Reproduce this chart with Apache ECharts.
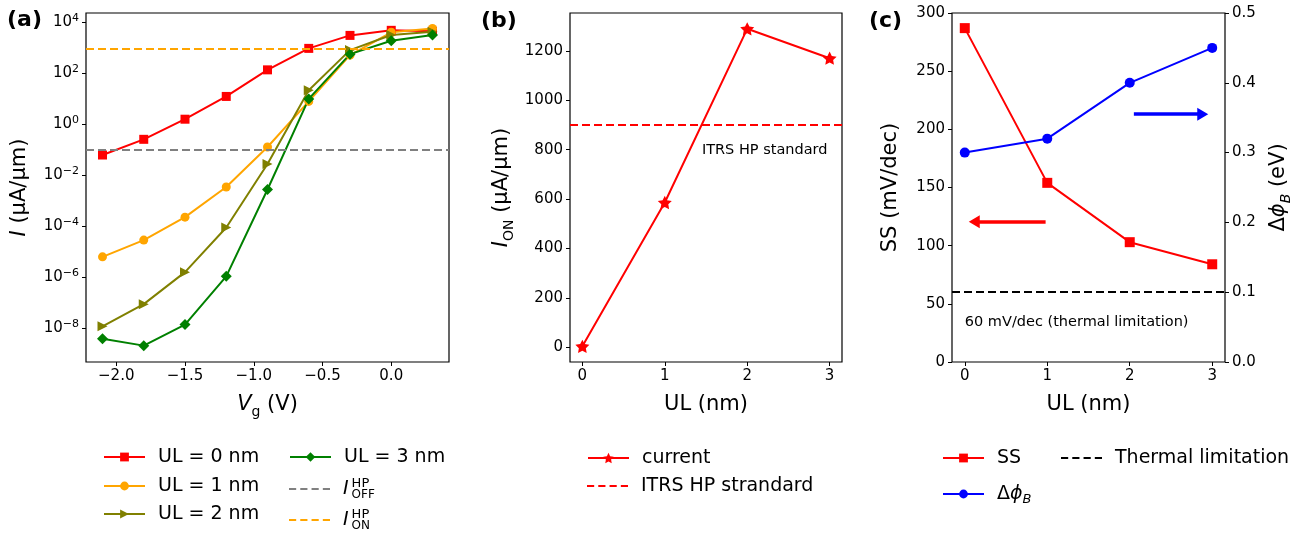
<!DOCTYPE html>
<html><head><meta charset="utf-8">
<script src="https://cdn.jsdelivr.net/npm/echarts@6/dist/echarts.min.js"></script>
<style>html,body{margin:0;padding:0;background:#fff}#c{width:1305px;height:537px}</style>
</head><body><div id="c"></div>
<script>
// ---------- data ----------
const vg = [-2.1, -1.8, -1.5, -1.2, -0.9, -0.6, -0.3, 0.0, 0.3];
const ul0 = [0.063, 0.26, 1.6, 12.5, 138, 960, 3100, 4900, 4500];
const ul1 = [6.4e-6, 2.9e-5, 2.3e-4, 3.5e-3, 0.13, 8, 520, 4100, 5800];
const ul2 = [1.2e-8, 8.9e-8, 1.6e-6, 9e-5, 0.028, 22, 820, 3200, 4300];
const ul3 = [3.9e-9, 2.1e-9, 1.4e-8, 1.1e-6, 2.8e-3, 10, 570, 1900, 3200];
const iOffHP = 0.1;
const iOnHP = 900;
const ulNm = [0, 1, 2, 3];
const ionCurrent = [4, 586, 1289, 1170];
const itrsHP = 900;
const ss = [287, 154, 103, 84];
const dphiB = [0.30, 0.32, 0.40, 0.45];
const thermalSS = 60;
const logTicks = [1e-8, 1e-6, 1e-4, 1e-2, 1, 1e2, 1e4];
const vgTicks = [-2, -1.5, -1, -0.5, 0];
const ulTicks = [0, 1, 2, 3];
const ionTicks = [0, 200, 400, 600, 800, 1000, 1200];

// ---------- style ----------
const F = 'DejaVu Sans';
const TICK = 15, NAME = 21, LEG = 19, NOTE = 14.5;
const STAR = 'path://M0,-10 L2.94,-4.05 9.51,-3.09 4.76,1.55 5.88,8.09 0,5 -5.88,8.09 -4.76,1.55 -9.51,-3.09 -2.94,-4.05 Z';
const DASH = 'path://M0,0h7v2h-7z M11,0h7v2h-7z M22,0h7v2h-7z M33,0h7v2h-7z';

function pairs(xs, ys) { return xs.map((x, i) => [x, ys[i]]); }

function tickCfg(custom) {
  const t = {show: true, length: 4, lineStyle: {color: '#000', width: 1}};
  if (custom) t.customValues = custom;
  return t;
}
function labelCfg(custom, fmt, rich) {
  const l = {fontFamily: F, fontSize: TICK, color: '#000', margin: 7, formatter: fmt || (v => String(v))};
  if (custom) l.customValues = custom;
  if (rich) l.rich = rich;
  return l;
}
const noLine = {show: false, onZero: false};
const nameRich = {
  i: {fontFamily: F, fontSize: NAME, fontStyle: 'italic', color: '#000', lineHeight: 28},
  n: {fontFamily: F, fontSize: NAME, color: '#000', lineHeight: 28},
  sub: {fontFamily: F, fontSize: 14, color: '#000', verticalAlign: 'bottom', lineHeight: 14},
  isub: {fontFamily: F, fontSize: 14, fontStyle: 'italic', color: '#000', verticalAlign: 'bottom', lineHeight: 14}
};
function nameStyle() { return {fontFamily: F, fontSize: NAME, color: '#000', lineHeight: 28, rich: nameRich}; }

const legRich = {
  t: {fontFamily: F, fontSize: LEG, color: '#000', lineHeight: 24},
  i: {fontFamily: F, fontSize: LEG, fontStyle: 'italic', color: '#000', lineHeight: 24, padding: [0, 3, 0, 0]},
  p: {fontFamily: F, fontSize: LEG, fontStyle: 'italic', color: '#000', lineHeight: 24},
  hp: {fontFamily: F, fontSize: 13, color: '#000', lineHeight: 13, verticalAlign: 'top', width: 0},
  lo: {fontFamily: F, fontSize: 12, color: '#000', lineHeight: 12, verticalAlign: 'bottom'},
  b: {fontFamily: F, fontSize: 13, fontStyle: 'italic', color: '#000', lineHeight: 14, verticalAlign: 'bottom'}
};
const legNames = {
  'ioff': '{i|I}{hp|HP}{lo|OFF}',
  'ion': '{i|I}{hp|HP}{lo|ON}',
  'dphi': '{t|\u0394}{p|\u03D5}{b|B}'
};
function leg(name, left, top, extra) {
  return Object.assign({
    data: [name], left: left, top: top, orient: 'horizontal', selectedMode: false,
    itemWidth: 41, itemHeight: 11, padding: 0, itemGap: 0,
    formatter: n => legNames[n] || ('{t|' + n + '}'),
    textStyle: {fontFamily: F, fontSize: LEG, color: '#000', lineHeight: 24, padding: [0, 0, 0, 8], rich: legRich}
  }, extra || {});
}
const dashLeg = {icon: DASH, itemHeight: 2, symbolKeepAspect: false};

function hline(name, color, value, xi, yi, extra) {
  return Object.assign({
    type: 'line', name: name, xAxisIndex: xi, yAxisIndex: yi, data: [], symbol: 'none',
    color: color, lineStyle: {color: color, width: 2, type: [8, 4]},
    markLine: {silent: true, symbol: 'none', animation: false, label: {show: false},
      lineStyle: {color: color, width: 2, type: [8, 4]}, emphasis: {disabled: true},
      data: [{yAxis: value}]}
  }, extra || {});
}

const option = {
  animation: false,
  textStyle: {fontFamily: F},
  grid: [
    {left: 86, top: 13, width: 363, height: 349, show: true, borderColor: '#000', borderWidth: 1.2, backgroundColor: 'transparent'},
    {left: 570, top: 13, width: 272, height: 349, show: true, borderColor: '#000', borderWidth: 1.2, backgroundColor: 'transparent'},
    {left: 952, top: 13, width: 273, height: 349, show: true, borderColor: '#000', borderWidth: 1.2, backgroundColor: 'transparent'}
  ],
  xAxis: [
    {gridIndex: 0, type: 'value', min: -2.22, max: 0.42, axisLine: noLine, splitLine: {show: false},
      axisTick: tickCfg(vgTicks), axisLabel: labelCfg(vgTicks, v => (v < 0 ? '\u2212' : '') + Math.abs(v).toFixed(1)),
      name: '{i|V}{sub|g}{n| (V)}', nameLocation: 'middle', nameGap: 29, nameTextStyle: nameStyle()},
    {gridIndex: 1, type: 'value', min: -0.15, max: 3.15, axisLine: noLine, splitLine: {show: false},
      axisTick: tickCfg(ulTicks), axisLabel: labelCfg(ulTicks),
      name: 'UL (nm)', nameLocation: 'middle', nameGap: 29, nameTextStyle: nameStyle()},
    {gridIndex: 2, type: 'value', min: -0.155, max: 3.155, axisLine: noLine, splitLine: {show: false},
      axisTick: tickCfg(ulTicks), axisLabel: labelCfg(ulTicks),
      name: 'UL (nm)', nameLocation: 'middle', nameGap: 29, nameTextStyle: nameStyle()}
  ],
  yAxis: [
    {gridIndex: 0, type: 'log', logBase: 10, min: Math.pow(10, -9.32), max: Math.pow(10, 4.37),
      axisLine: noLine, splitLine: {show: false}, minorTick: {show: false},
      axisTick: tickCfg(logTicks),
      axisLabel: labelCfg(logTicks, v => {
        const e = Math.round(Math.log10(v));
        return '{b|10}{s|' + (e < 0 ? '\u2212' : '') + Math.abs(e) + '}';
      }, {
        b: {fontFamily: F, fontSize: TICK, color: '#000', lineHeight: 19, verticalAlign: 'middle'},
        s: {fontFamily: F, fontSize: 11, color: '#000', lineHeight: 11, verticalAlign: 'top'}
      }),
      name: '{i|I}{n| (\u03BCA/\u03BCm)}', nameLocation: 'middle', nameRotate: 90, nameGap: 52, nameTextStyle: nameStyle()},
    {gridIndex: 1, type: 'value', min: -59.6, max: 1353, axisLine: noLine, splitLine: {show: false},
      axisTick: tickCfg(ionTicks), axisLabel: labelCfg(ionTicks),
      name: '{i|I}{sub|ON}{n| (\u03BCA/\u03BCm)}', nameLocation: 'middle', nameRotate: 90, nameGap: 54, nameTextStyle: nameStyle()},
    {gridIndex: 2, type: 'value', min: 0, max: 300, interval: 50, axisLine: noLine, splitLine: {show: false},
      axisTick: tickCfg(), axisLabel: labelCfg(),
      name: 'SS (mV/dec)', nameLocation: 'middle', nameRotate: 90, nameGap: 47, nameTextStyle: nameStyle()},
    {gridIndex: 2, type: 'value', position: 'right', min: 0, max: 0.5, interval: 0.1, axisLine: noLine, splitLine: {show: false},
      axisTick: tickCfg(), axisLabel: labelCfg(null, v => v.toFixed(1)),
      name: '{n|\u0394}{i|\u03D5}{isub|B}{n| (eV)}', nameLocation: 'middle', nameRotate: 90, nameGap: 40, nameTextStyle: nameStyle()}
  ],
  legend: [
    leg('UL = 0 nm', 103, 445),
    leg('UL = 1 nm', 103, 474),
    leg('UL = 2 nm', 103, 502),
    leg('UL = 3 nm', 289, 445, {itemHeight: 12}),
    leg('ioff', 289, 477, dashLeg),
    leg('ion', 289, 508, dashLeg),
    leg('current', 587, 446, {itemHeight: 13}),
    leg('ITRS HP strandard', 587, 474, dashLeg),
    leg('SS', 942, 446),
    leg('dphi', 942, 482),
    leg('Thermal limitation', 1061, 446, dashLeg)
  ],
  graphic: [
    {type: 'text', left: 7, top: 9, style: {text: '(a)', font: 'bold 22px "DejaVu Sans"', fill: '#000'}},
    {type: 'text', left: 481, top: 10, style: {text: '(b)', font: 'bold 22px "DejaVu Sans"', fill: '#000'}},
    {type: 'text', left: 869, top: 10, style: {text: '(c)', font: 'bold 22px "DejaVu Sans"', fill: '#000'}}
  ],
  series: [
    {type: 'line', name: 'UL = 0 nm', xAxisIndex: 0, yAxisIndex: 0, data: pairs(vg, ul0), color: '#ff0000',
      symbol: 'rect', symbolSize: 9, showAllSymbol: true, lineStyle: {width: 2}},
    {type: 'line', name: 'UL = 1 nm', xAxisIndex: 0, yAxisIndex: 0, data: pairs(vg, ul1), color: '#ffa500',
      symbol: 'circle', symbolSize: 9, showAllSymbol: true, lineStyle: {width: 2}},
    {type: 'line', name: 'UL = 2 nm', xAxisIndex: 0, yAxisIndex: 0, data: pairs(vg, ul2), color: '#808000',
      symbol: 'triangle', symbolRotate: -90, symbolSize: 10, showAllSymbol: true, lineStyle: {width: 2}},
    {type: 'line', name: 'UL = 3 nm', xAxisIndex: 0, yAxisIndex: 0, data: pairs(vg, ul3), color: '#008000',
      symbol: 'diamond', symbolSize: 11, showAllSymbol: true, lineStyle: {width: 2}},
    hline('ioff', '#808080', iOffHP, 0, 0),
    hline('ion', '#ffa500', iOnHP, 0, 0),
    {type: 'line', name: 'current', xAxisIndex: 1, yAxisIndex: 1, data: pairs(ulNm, ionCurrent), color: '#ff0000',
      symbol: STAR, symbolSize: 14, symbolKeepAspect: true, showAllSymbol: true, lineStyle: {width: 2}},
    hline('ITRS HP strandard', '#ff0000', itrsHP, 1, 1, {
      markPoint: {silent: true, symbol: 'circle', symbolSize: 0, animation: false,
        label: {show: true, position: 'right', distance: 0, formatter: 'ITRS HP standard', fontFamily: F, fontSize: NOTE, color: '#000'},
        data: [{coord: [1.45, 796]}]}
    }),
    {type: 'line', name: 'SS', xAxisIndex: 2, yAxisIndex: 2, data: pairs(ulNm, ss), color: '#ff0000',
      symbol: 'rect', symbolSize: 10, showAllSymbol: true, lineStyle: {width: 2},
      markLine: {silent: true, animation: false, symbol: ['none', 'triangle'], symbolSize: [13, 11],
        label: {show: false}, lineStyle: {color: '#ff0000', width: 3.5, type: 'solid'}, emphasis: {disabled: true},
        data: [[{coord: [0.98, 120.5]}, {coord: [0.115, 120.5]}]]}},
    {type: 'line', name: 'dphi', xAxisIndex: 2, yAxisIndex: 3, data: pairs(ulNm, dphiB), color: '#0000ff',
      symbol: 'circle', symbolSize: 10, showAllSymbol: true, lineStyle: {width: 2},
      markLine: {silent: true, animation: false, symbol: ['none', 'triangle'], symbolSize: [13, 11],
        label: {show: false}, lineStyle: {color: '#0000ff', width: 3.5, type: 'solid'}, emphasis: {disabled: true},
        data: [[{coord: [2.05, 0.355]}, {coord: [2.885, 0.355]}]]}},
    hline('Thermal limitation', '#000000', thermalSS, 2, 2, {
      markPoint: {silent: true, symbol: 'circle', symbolSize: 0, animation: false,
        label: {show: true, position: 'right', distance: 0, formatter: '60 mV/dec (thermal limitation)', fontFamily: F, fontSize: NOTE, color: '#000'},
        data: [{coord: [0, 34]}]}
    })
  ]
};
const chart = echarts.init(document.getElementById('c'), null, {renderer: 'canvas'});
chart.setOption(option);
</script>
</body></html>
